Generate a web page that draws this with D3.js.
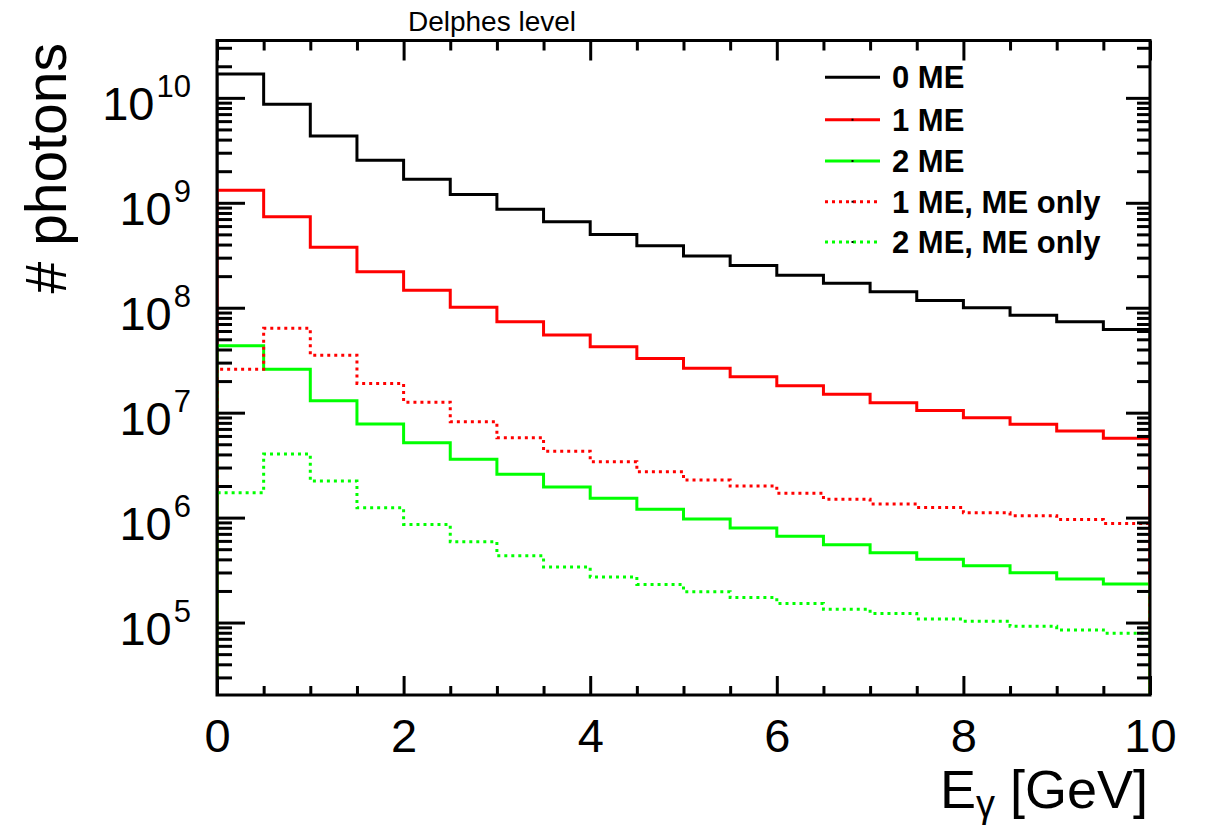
<!DOCTYPE html>
<html>
<head>
<meta charset="utf-8">
<script src="https://cdn.jsdelivr.net/npm/d3@7"></script>
<style>
  html, body { margin: 0; padding: 0; background: #fff; }
  svg { display: block; }
  text { font-family: "Liberation Sans", Arial, Helvetica, sans-serif; fill: #000; }
</style>
</head>
<body>
<svg id="chart" width="1207" height="829"></svg>
<script>
// Photon energy spectra, 0.5 GeV bins from 0 to 10 GeV
const binLowEdges = [0, 0.5, 1, 1.5, 2, 2.5, 3, 3.5, 4, 4.5, 5, 5.5, 6, 6.5, 7, 7.5, 8, 8.5, 9, 9.5];
const binUpperEdge = 10;

const zeroME = [1.69e10, 8.67e9, 4.33e9, 2.55e9, 1.68e9, 1.20e9, 8.66e8, 6.6e8, 5.0e8, 3.89e8,
                3.11e8, 2.53e8, 2.04e8, 1.71e8, 1.42e8, 1.17e8, 1.0e8, 8.5e7, 7.36e7, 6.2e7];
const oneME = [1.32e9, 7.36e8, 3.76e8, 2.2e8, 1.47e8, 1.01e8, 7.36e7, 5.5e7, 4.25e7, 3.29e7,
               2.65e7, 2.2e7, 1.81e7, 1.5e7, 1.24e7, 1.05e7, 8.95e6, 7.74e6, 6.68e6, 5.7e6];
const twoME = [4.35e7, 2.59e7, 1.30e7, 7.8e6, 5.18e6, 3.59e6, 2.59e6, 1.96e6, 1.53e6, 1.2e6,
               9.7e5, 7.96e5, 6.64e5, 5.52e5, 4.63e5, 4.01e5, 3.48e5, 2.99e5, 2.60e5, 2.33e5];
const oneMEonly = [2.6e7, 6.37e7, 3.52e7, 1.9e7, 1.26e7, 8.2e6, 5.77e6, 4.28e6, 3.41e6, 2.74e6,
                   2.28e6, 2.0e6, 1.71e6, 1.5e6, 1.35e6, 1.25e6, 1.11e6, 1.04e6, 9.6e5, 8.8e5];
const twoMEonly = [1.73e6, 4.04e6, 2.23e6, 1.24e6, 8.6e5, 5.9e5, 4.34e5, 3.39e5, 2.72e5, 2.31e5,
                   1.97e5, 1.73e5, 1.52e5, 1.34e5, 1.22e5, 1.08e5, 1.03e5, 9.2e4, 8.5e4, 7.9e4];

const seriesNames = ["0 ME", "1 ME", "2 ME", "1 ME, ME only", "2 ME, ME only"];
const seriesColors = ["#000000", "#ff0000", "#00ff00", "#ff0000", "#00ff00"];
const seriesDotted = [false, false, false, true, true];
const seriesValues = [zeroME, oneME, twoME, oneMEonly, twoMEonly];

const xMajorTicks = [0, 2, 4, 6, 8, 10];
const xMinorTicks = [0.5, 1, 1.5, 2.5, 3, 3.5, 4.5, 5, 5.5, 6.5, 7, 7.5, 8.5, 9, 9.5];
const yDecades = [1e5, 1e6, 1e7, 1e8, 1e9, 1e10];
const yMinorTicks = [3e4, 4e4, 5e4, 6e4, 7e4, 8e4, 9e4,
  2e5, 3e5, 4e5, 5e5, 6e5, 7e5, 8e5, 9e5,
  2e6, 3e6, 4e6, 5e6, 6e6, 7e6, 8e6, 9e6,
  2e7, 3e7, 4e7, 5e7, 6e7, 7e7, 8e7, 9e7,
  2e8, 3e8, 4e8, 5e8, 6e8, 7e8, 8e8, 9e8,
  2e9, 3e9, 4e9, 5e9, 6e9, 7e9, 8e9, 9e9,
  2e10, 3e10];

const yRange = [2.04e4, 3.52e10];
const xTitleMain = "E";
const xTitleSub = "γ";
const xTitleRest = " [GeV]";
const yTitle = "# photons";
const plotTitle = "Delphes level";

// Frame geometry
const L = 217, R = 1150, T = 40.5, B = 695;

const svg = d3.select("#chart");
const x = d3.scaleLinear().domain([0, 10]).range([L, R]);
const y = d3.scaleLog().domain(yRange).range([B, T]);

svg.append("defs").append("clipPath").attr("id", "plotClip")
  .append("rect").attr("x", L).attr("y", T).attr("width", R - L).attr("height", B - T);

// Histograms
const histLine = d3.line()
  .x(d => x(d[0]))
  .y(d => y(d[1]))
  .curve(d3.curveStepAfter);

const histG = svg.append("g").attr("clip-path", "url(#plotClip)");
seriesValues.forEach((vals, i) => {
  const pts = [[binLowEdges[0], yRange[0]]];
  vals.forEach((v, j) => pts.push([binLowEdges[j], v]));
  pts.push([binUpperEdge, vals[vals.length - 1]]);
  pts.push([binUpperEdge, yRange[0]]);
  histG.append("path")
    .attr("d", histLine(pts))
    .attr("fill", "none")
    .attr("stroke", seriesColors[i])
    .attr("stroke-width", 3)
    .attr("stroke-dasharray", seriesDotted[i] ? "3,4" : null);
});

// Axes: ticks drawn inward on all four sides
function styleAxis(g) {
  g.select(".domain").remove();
  g.selectAll(".tick line").attr("stroke", "#000").attr("stroke-width", 3);
}

const bottomMajor = svg.append("g").attr("transform", `translate(0,${B})`)
  .call(d3.axisBottom(x).tickValues(xMajorTicks).tickSize(-19).tickPadding(22).tickFormat(d3.format("d")));
styleAxis(bottomMajor);
bottomMajor.selectAll("text")
  .attr("font-size", 47).attr("y", 57).attr("dy", null)
  .style("font-family", "'Liberation Sans', Arial, sans-serif");

svg.append("g").attr("transform", `translate(0,${B})`)
  .call(d3.axisBottom(x).tickValues(xMinorTicks).tickSize(-9).tickFormat(""))
  .call(styleAxis);

svg.append("g").attr("transform", `translate(0,${T})`)
  .call(d3.axisTop(x).tickValues(xMajorTicks).tickSize(-20).tickFormat(""))
  .call(styleAxis);
svg.append("g").attr("transform", `translate(0,${T})`)
  .call(d3.axisTop(x).tickValues(xMinorTicks).tickSize(-10).tickFormat(""))
  .call(styleAxis);

const leftMajor = svg.append("g").attr("transform", `translate(${L},0)`)
  .call(d3.axisLeft(y).tickValues(yDecades).tickSize(-28).tickFormat(""));
styleAxis(leftMajor);
svg.append("g").attr("transform", `translate(${L},0)`)
  .call(d3.axisLeft(y).tickValues(yMinorTicks).tickSize(-15).tickFormat(""))
  .call(styleAxis);

svg.append("g").attr("transform", `translate(${R},0)`)
  .call(d3.axisRight(y).tickValues(yDecades).tickSize(-24).tickFormat(""))
  .call(styleAxis);
svg.append("g").attr("transform", `translate(${R},0)`)
  .call(d3.axisRight(y).tickValues(yMinorTicks).tickSize(-13).tickFormat(""))
  .call(styleAxis);

// Decade labels as 10^n
const yLabels = svg.append("g");
yDecades.forEach(v => {
  const t = yLabels.append("text")
    .attr("x", 191)
    .attr("y", y(v) + 22)
    .attr("text-anchor", "end")
    .attr("font-size", 47);
  t.append("tspan").text("10");
  t.append("tspan").attr("dy", -23).attr("dx", 2).attr("font-size", 31)
    .text(String(Math.round(Math.log10(v))));
});

// Frame
svg.append("rect")
  .attr("x", L).attr("y", T).attr("width", R - L).attr("height", B - T)
  .attr("fill", "none").attr("stroke", "#000").attr("stroke-width", 3);

// Titles
svg.append("text")
  .attr("x", 492).attr("y", 31)
  .attr("text-anchor", "middle")
  .attr("font-size", 28)
  .text(plotTitle);

const xt = svg.append("text")
  .attr("x", 1148).attr("y", 808)
  .attr("text-anchor", "end")
  .attr("font-size", 54);
xt.append("tspan").text(xTitleMain);
xt.append("tspan").attr("font-size", 38).attr("dy", 9).text(xTitleSub);
xt.append("tspan").attr("dy", -9).text(xTitleRest);

svg.append("text")
  .attr("transform", "translate(66,43) rotate(-90)")
  .attr("text-anchor", "end")
  .attr("font-size", 57)
  .text(yTitle);

// Legend
const legend = svg.append("g");
const legendRowY = [77.3, 119.7, 161, 201.7, 242];
seriesNames.forEach((name, i) => {
  const ly = legendRowY[i];
  legend.append("line")
    .attr("x1", 825).attr("x2", 880).attr("y1", ly).attr("y2", ly)
    .attr("stroke", seriesColors[i]).attr("stroke-width", 3)
    .attr("stroke-dasharray", seriesDotted[i] ? "3,4" : null);
  if (i > 0) {
    legend.append("rect")
      .attr("x", 851.5).attr("y", ly - 1).attr("width", 2).attr("height", 2)
      .attr("fill", "#000");
  }
  legend.append("text")
    .attr("x", 892).attr("y", ly + 11)
    .attr("font-size", 31)
    .attr("font-weight", "bold")
    .text(name);
});
</script>
</body>
</html>
